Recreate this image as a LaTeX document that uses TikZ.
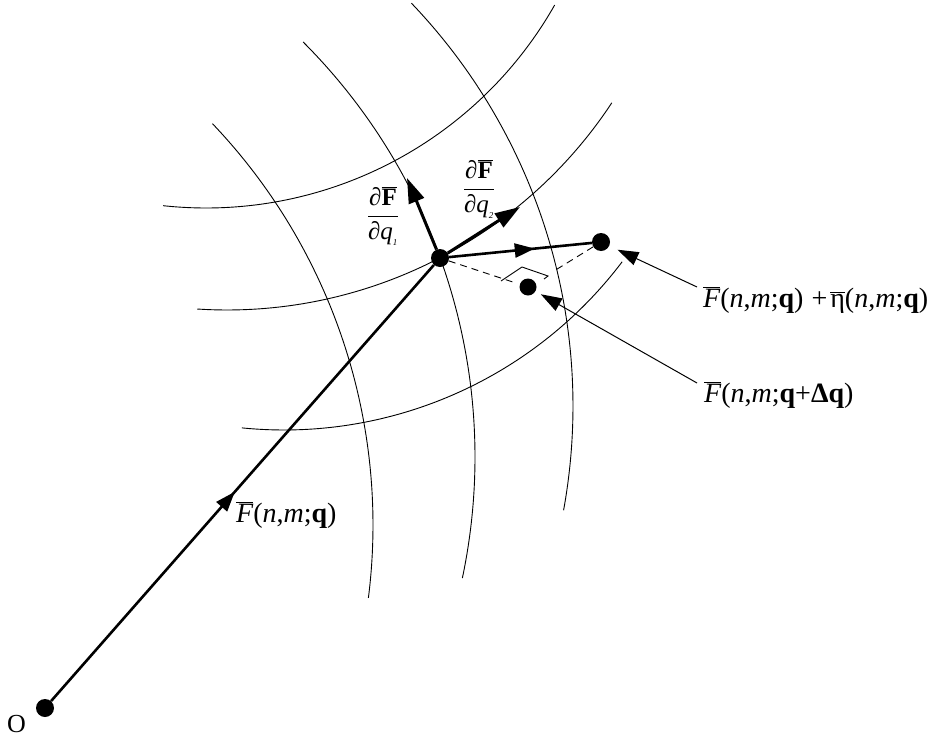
\documentclass[tikz,border=0pt]{standalone}
\usepackage{fontspec}
\setmainfont{Liberation Serif}
\usetikzlibrary{arrows.meta,decorations.markings}
\newcommand\Fbar{\ensuremath{\overline{\hbox{\itshape F}}}}
\newcommand\etabar{\ensuremath{\overline{\hbox{η}}}}
\newcommand\pfrac[1]{$\displaystyle\frac{\hbox{∂}\overline{\hbox{\bfseries F}}}{\hbox{∂\itshape q}_{\hbox{\fontsize{9}{9}\selectfont\itshape #1}}}$}
\begin{document}
\begin{tikzpicture}[x=1pt,y=-1pt,
  curve/.style={line width=0.9pt},
  dot/.style={circle,fill,inner sep=0pt,minimum size=18pt},
  vec/.style={line width=2.6pt},
  bighead/.style={-{Triangle[length=25pt,width=16pt]}},
  midarrow/.style={postaction={decorate},decoration={markings,mark=at position #1 with {\arrow{Triangle[length=20pt,width=14pt]}}}},
  pointer/.style={line width=1pt,-{Triangle[length=21pt,width=14pt]}},
  dashline/.style={line width=0.9pt,dash pattern=on 7pt off 5pt},
  lbl/.style={font=\fontsize{25}{30}\selectfont,inner sep=0pt},
  biglbl/.style={font=\fontsize{28}{33}\selectfont,inner sep=0pt}]
\useasboundingbox (0,0) rectangle (931,736);
% coordinate curves (circular arcs)
\draw[curve] (-209,525) ++(-43.6:582) arc[start angle=-43.6,end angle=7.2,radius=582];
\draw[curve] (-112,457) ++(-45:587) arc[start angle=-45,end angle=11.9,radius=587];
\draw[curve] (-10,406) ++(-43.7:583) arc[start angle=-43.7,end angle=10.3,radius=583];
\draw[curve] (206,-193) ++(96.15:401) arc[start angle=96.15,end angle=29.6,radius=401];
\draw[curve] (227,-151) ++(93.7:461) arc[start angle=93.7,end angle=33.4,radius=461];
\draw[curve] (284,6) ++(95.7:424) arc[start angle=95.7,end angle=37.1,radius=424];
% points
\node[dot] (O) at (45,708) {};
\node[dot] (P) at (440,258) {};
\node[dot] (A) at (601,242) {};
\node[dot,minimum size=17pt] (B) at (528,287) {};
\coordinate (T1) at (407,178);
\coordinate (T2) at (520,207);
% vectors
\draw[vec,midarrow=0.48] (O) -- (P);
\draw[vec,midarrow=0.6] (P) -- (A);
\draw[vec,line width=3pt,bighead] (P) -- (T1);
\draw[vec,line width=3pt,bighead] (P) -- (T2);
% dashed projection
\draw[dashline,shorten >=3pt] (P) -- (B);
\draw[dashline,shorten >=20pt] (A) -- (B);
\draw[line width=0.9pt] (501,281) -- (522,267) -- (548,276) -- (544,279);
% labels
\node[lbl,font=\fontsize{26}{31}\selectfont,anchor=base west] (LO) at (7,732) {O};
\node[biglbl,anchor=base west] (LF) at (236,522) {\Fbar(\textit{n},\textit{m};\textbf{q})};
\node[lbl] (D1) at (383,216) {\pfrac{1}};
\node[lbl] (D2) at (479,189) {\pfrac{2}};
\node[biglbl,anchor=base west] (L1) at (703,307) {\Fbar(\textit{n},\textit{m};\textbf{q})\kern8pt+\kern3pt\etabar(\textit{n},\textit{m};\textbf{q})};
\node[biglbl,anchor=base west] (L2) at (704,402) {\Fbar(\textit{n},\textit{m};\textbf{q}+\textbf{Δq})};
\coordinate (C1) at (697,287);
\coordinate (C2) at (697,383);
\draw[pointer,shorten >=9pt] (C1) -- (A);
\draw[pointer,shorten >=6pt] (C2) -- (B);
\end{tikzpicture}
\end{document}
